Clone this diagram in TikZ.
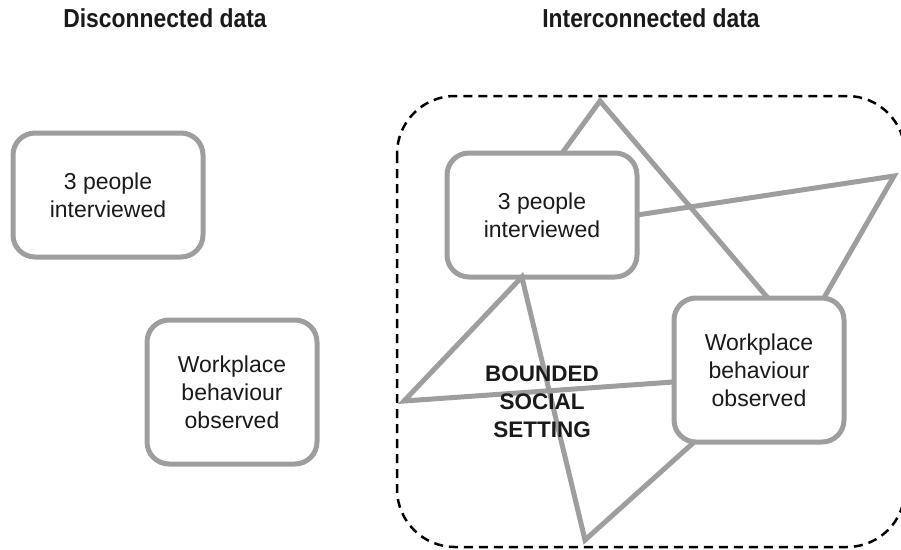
\documentclass[tikz,border=0pt]{standalone}
\usepackage{fontspec}
\setmainfont{Liberation Sans}
\newfontfamily\headfont[FakeStretch=0.88]{Liberation Sans}
\usetikzlibrary{positioning}
\definecolor{edgegray}{RGB}{158,158,158}
\definecolor{inkblack}{RGB}{26,26,26}

\begin{document}
\begin{tikzpicture}[x=1pt, y=-1pt,
  databox/.style={draw=edgegray, line width=5pt, rounded corners=22pt, fill=white,
    outer sep=0pt, inner sep=0pt, align=center, text=inkblack,
    font=\fontsize{23}{28}\selectfont},
  smallbox/.style={databox, minimum width=190pt, minimum height=124pt},
  bigbox/.style={databox, minimum width=170pt, minimum height=144pt},
  link/.style={draw=edgegray, line width=5pt, line join=miter},
  heading/.style={font=\headfont\bfseries\fontsize{26}{30}\selectfont, text=inkblack},
  boundary/.style={draw=black, line width=2.5pt, dash pattern=on 9pt off 6pt, rounded corners=58pt}]
\useasboundingbox (0,0) rectangle (901,549);
\node (headL) at (165,18) [heading] {Disconnected data};
\node (headR) at (651,18) [heading] {Interconnected data};
\node (peopleL) at (108,195) [smallbox] {3 people\\interviewed};
\node (workL) at (232,392) [bigbox] {Workplace\\behaviour\\observed};
\draw [boundary] (397,96) rectangle (905,547);
\node (peopleR) at (542,215) [smallbox] {3 people\\interviewed};
\node (workR) at (759,370) [bigbox] {Workplace\\behaviour\\observed};
\coordinate (apexT) at (600,101);
\coordinate (apexR) at (894,176);
\coordinate (apexL) at (404,401);
\coordinate (apexB) at (585,540);
\draw [link] (peopleR.72) -- (apexT) -- (workR.83);
\draw [link] (peopleR.east) -- (apexR) -- (workR.48);
\draw [link] (workR.188) -- (apexL) -- (peopleR.252) -- (apexB) -- (workR.228);
\node (setting) at (542,402) [font=\bfseries\fontsize{22.5}{28}\selectfont, align=center, text=inkblack] {BOUNDED\\SOCIAL\\SETTING};
\end{tikzpicture}
\end{document}
